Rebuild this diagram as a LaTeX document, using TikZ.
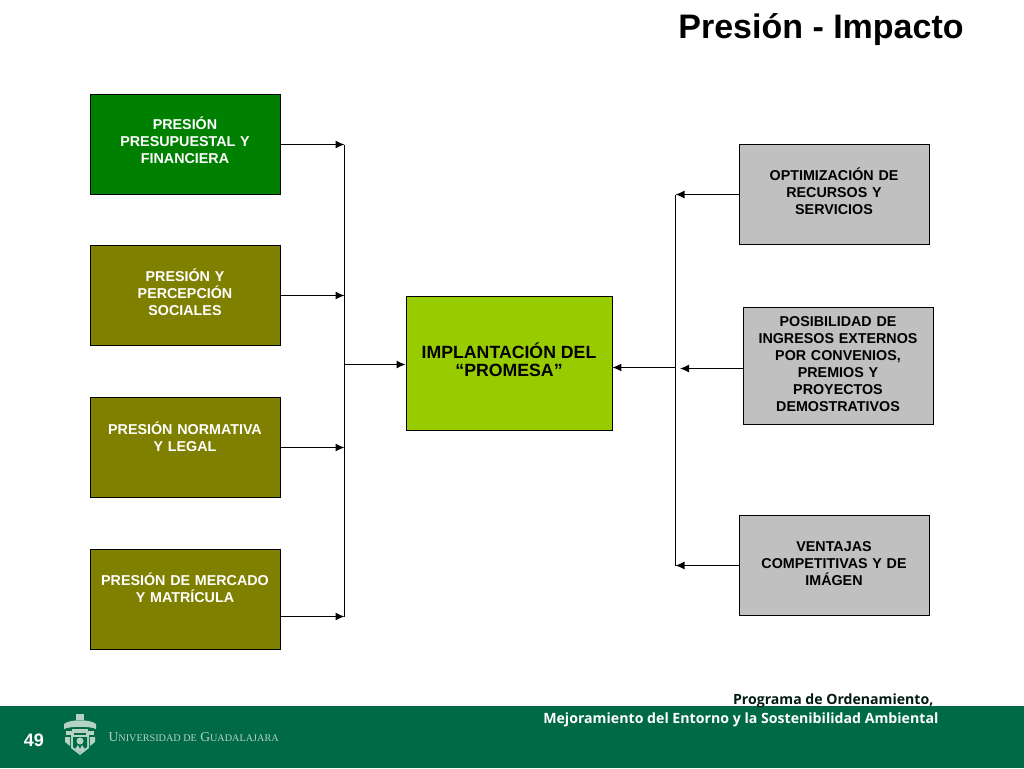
\documentclass[tikz,border=0pt]{standalone}
\usepackage{fontspec}
\setmainfont{Liberation Sans}
\newfontfamily\footfont{Open Sans}
\newfontfamily\unifont{Liberation Serif}
\usetikzlibrary{positioning,arrows.meta}
\definecolor{footgreen}{HTML}{006A46}
\definecolor{pressgreen}{HTML}{008000}
\definecolor{olivebox}{HTML}{808000}
\definecolor{limebox}{HTML}{99CC00}
\definecolor{greybox}{HTML}{C0C0C0}
\definecolor{crest}{HTML}{B5D3C4}
\tikzset{
  box/.style={draw=black,line width=0.8pt,minimum width=190pt,minimum height=100pt,inner sep=0pt},
  boxtext/.style={font=\fontsize{14.3}{17}\selectfont\bfseries,align=center,inner sep=0pt,text width=186pt},
  press/.style={box,fill=olivebox},
  presstext/.style={boxtext,text=white},
  gain/.style={box,fill=greybox},
  gaintext/.style={boxtext,text=black},
}
\begin{document}
\begin{tikzpicture}[x=1pt,y=-1pt,->,>={Latex[length=9pt,width=8pt]},line width=1.2pt]
  \useasboundingbox (0,0) rectangle (1024,768);
  \node[font=\fontsize{34}{36}\selectfont\bfseries,inner sep=0pt] (title) at (821,30) {Presión - Impacto};

  \node[press,fill=pressgreen] (p1) at (185,144) {};
  \node[press] (p2) at (185,295.5) {};
  \node[press] (p3) at (185,447.5) {};
  \node[press] (p4) at (185,599.5) {};
  \node[presstext,below=22.5pt of p1.north] (p1text) {PRESIÓN\\PRESUPUESTAL Y\\FINANCIERA};
  \node[presstext,below=23pt of p2.north] (p2text) {PRESIÓN Y\\PERCEPCIÓN\\SOCIALES};
  \node[presstext,below=24pt of p3.north] (p3text) {PRESIÓN NORMATIVA\\Y LEGAL};
  \node[presstext,below=23pt of p4.north] (p4text) {PRESIÓN DE MERCADO\\Y MATRÍCULA};

  \node[box,fill=limebox,minimum width=206pt,minimum height=134pt] (impl) at (509,363) {};
  \node[font=\fontsize{17.7}{18}\selectfont\bfseries,align=center,inner sep=0pt,below=47pt of impl.north] (impltext) {IMPLANTACIÓN DEL\\“PROMESA”};

  \node[gain] (r1) at (834,194) {};
  \node[gain,minimum height=117pt] (r2) at (838,365.5) {};
  \node[gain] (r3) at (834,565) {};
  \node[gaintext,below=24pt of r1.north] (r1text) {OPTIMIZACIÓN DE\\RECURSOS Y\\SERVICIOS};
  \node[gaintext,below=9pt of r2.north] (r2text) {POSIBILIDAD DE\\INGRESOS EXTERNOS\\POR CONVENIOS,\\PREMIOS Y\\PROYECTOS\\DEMOSTRATIVOS};
  \node[gaintext,below=26pt of r3.north] (r3text) {VENTAJAS\\COMPETITIVAS Y DE\\IMÁGEN};

  \coordinate (lefttop) at (344.5,144.5);
  \coordinate (leftone) at (344.5,295.5);
  \coordinate (lefttwo) at (344.5,447.5);
  \coordinate (leftbot) at (344.5,616.5);
  \coordinate (leftmid) at (344.5,364.5);
  \coordinate (righttop) at (675.5,194.5);
  \coordinate (rightbot) at (675.5,565.5);
  \coordinate (rightmid) at (675.5,367.5);
  \coordinate (rightin) at (680,368.5);

  \draw[-] (lefttop) -- (leftbot);
  \draw[-] (righttop) -- (rightbot);
  \draw (p1.east |- lefttop) -- (lefttop);
  \draw (p2.east |- leftone) -- (leftone);
  \draw (p3.east |- lefttwo) -- (lefttwo);
  \draw (p4.east |- leftbot) -- (leftbot);
  \draw (leftmid) -- (impl.west |- leftmid);
  \draw (r1.west |- righttop) -- (righttop);
  \draw (r2.west |- rightin) -- (rightin);
  \draw (r3.west |- rightbot) -- (rightbot);
  \draw (rightmid) -- (impl.east |- rightmid);

  \fill[footgreen] (0,706) rectangle (1024,768);
  \node[text=white,font=\fontsize{18}{20}\selectfont\bfseries,inner sep=0pt] (pagenum) at (34,740) {49};
  \node[text=crest,font=\unifont\fontsize{13.6}{16}\selectfont,inner sep=0pt,anchor=west] (uni) at (108,737) {U{\fontsize{10.2}{16}\selectfont NIVERSIDAD DE} G{\fontsize{10.2}{16}\selectfont UADALAJARA}};
  \node[text=black!75!footgreen,font=\footfont\fontsize{14.1}{16}\selectfont\bfseries,inner sep=0pt,anchor=east] (prog) at (934,701) {Programa de Ordenamiento,};
  \node[text=white,font=\footfont\fontsize{14.15}{16}\selectfont\bfseries,inner sep=0pt,anchor=east] (mejora) at (939,720) {Mejoramiento del Entorno y la Sostenibilidad Ambiental};

  \fill[crest] (76,714) -- (84,714) -- (84,720) -- (76,720) -- cycle;
  \fill[crest] (64,724) .. controls (70,719) and (90,719) .. (96,724) -- (96,729) .. controls (90,726) and (70,726) .. (64,729) -- cycle;
  \fill[crest] (66,731) rectangle (74,735);
  \fill[crest] (86,731) rectangle (94,735);
  \fill[crest] (65,737) -- (70,737) -- (70,746) -- (65,742) -- cycle;
  \fill[crest] (90,737) -- (95,737) -- (95,742) -- (90,746) -- cycle;
  \fill[crest] (72,729) rectangle (88,733);
  \fill[crest] (71,735) -- (89,735) -- (89,748) -- (80,755) -- (71,748) -- cycle;
  \fill[footgreen] (73,737) -- (87,737) -- (87,747) -- (80,752.5) -- (73,747) -- cycle;
  \fill[crest] (80,741) circle (3.5);
  \fill[crest] (74.5,750) -- (78,745) -- (80,749) -- (82,745) -- (85.5,750) -- (80,752) -- cycle;
\end{tikzpicture}
\end{document}
